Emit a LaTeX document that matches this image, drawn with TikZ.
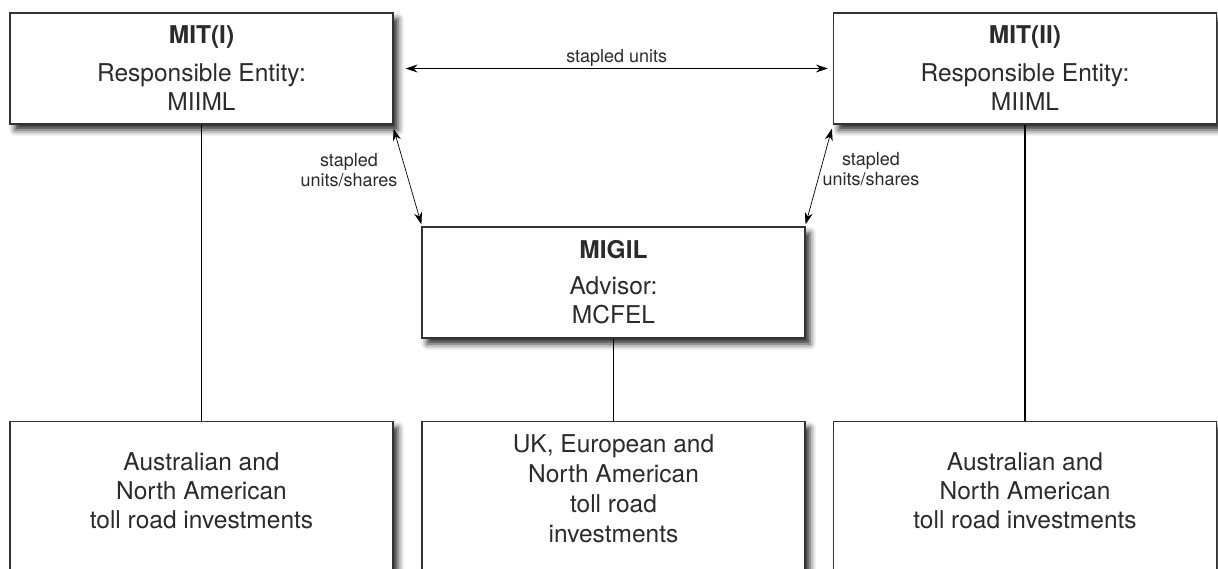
\documentclass[tikz,border=0pt]{standalone}
\usepackage{fontspec}
\setmainfont{TeX Gyre Heros}
\usetikzlibrary{arrows.meta,shadows.blur}
\definecolor{txt}{HTML}{2B2B2B}
\definecolor{edge}{HTML}{333333}
\begin{document}
\begin{tikzpicture}[x=1pt,y=-1pt,
  box/.style={draw=edge, line width=1.2pt, fill=white, minimum width=383pt,
    minimum height=111pt, inner sep=0pt, text=txt, align=center,
    font=\fontsize{24.5}{29.5}\selectfont,
    blur shadow={shadow xshift=5pt, shadow yshift=-6pt, shadow blur radius=6pt, shadow opacity=85}},
  bbox/.style={box, minimum height=220pt, anchor=north},
  btxt/.style={text=txt, align=center, inner sep=0pt, font=\fontsize{24.5}{29}\selectfont},
  lbl/.style={text=txt, align=center, inner sep=1.5pt, font=\fontsize{18}{20.5}\selectfont},
  link/.style={draw=black, line width=1pt},
  dbl/.style={draw=black, line width=1pt, {Stealth[length=12pt,width=8pt]}-{Stealth[length=12pt,width=8pt]}},
  dbld/.style={draw=black, line width=0.7pt, {Stealth[length=12pt,width=8pt]}-{Stealth[length=12pt,width=8pt]}}
]
\useasboundingbox (0,0) rectangle (1218,568);
\clip (0,0) rectangle (1218,568);

\node[box] (m1) at (201.5,68.5) {\textbf{MIT(I)}\\[8pt]Responsible Entity:\\MIIML};
\node[box] (m2) at (1025,68.5) {\textbf{MIT(II)}\\[8pt]Responsible Entity:\\MIIML};
\node[box] (mg) at (613.5,282.5) {\textbf{MIGIL}\\[6pt]Advisor:\\MCFEL};

\node[bbox] (b1) at (201.5,421) {};
\node[bbox] (b2) at (613.5,421) {};
\node[bbox] (b3) at (1025,421) {};

\node[btxt] (t1) at (201.5,491) {Australian and\\North American\\toll road investments};
\node[btxt, font=\fontsize{24.5}{30}\selectfont] (t2) at (613.5,489) {UK, European and\\North American\\toll road\\investments};
\node[btxt] (t3) at (1025,491) {Australian and\\North American\\toll road investments};

\draw[link] (m1.south) -- (b1.north);
\draw[link, line width=1.8pt] (mg.south) -- (b2.north);
\draw[link, line width=1.5pt] (m2.south) -- (b3.north);

\draw[dbl] ([xshift=12pt]m1.east) -- node[lbl, above] (lu) {stapled units} ([xshift=-5pt]m2.west);
\draw[dbld] ([yshift=-4pt]m1.south east) -- ([yshift=2pt]mg.north west);
\draw[dbld] ([xshift=-1pt,yshift=-4pt]m2.south west) -- ([yshift=2pt]mg.north east);

\node[lbl] (l1) at (349,170) {stapled\\units/shares};
\node[lbl] (l2) at (871,169) {stapled\\units/shares};
\end{tikzpicture}
\end{document}
